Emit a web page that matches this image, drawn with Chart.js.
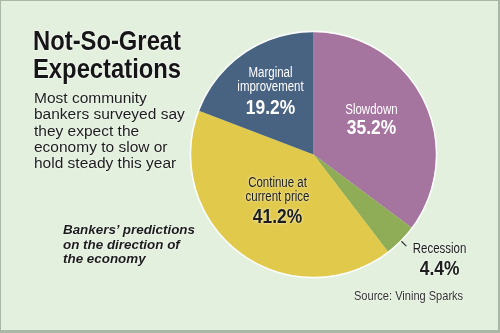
<!DOCTYPE html>
<html>
<head>
<meta charset="utf-8">
<script src="https://cdn.jsdelivr.net/npm/chart.js@4/dist/chart.umd.min.js"></script>
<style>
  html, body { margin: 0; padding: 0; }
  body { width: 500px; height: 333px; overflow: hidden; }
  #card {
    position: relative; width: 500px; height: 333px; box-sizing: border-box;
    background: #e3f0de; border: 1px solid #a9b8a6; border-right-width: 2px; border-bottom-width: 3px;
    font-family: "Liberation Sans", Arial, sans-serif;
  }
  #chartBox { position: absolute; left: 0; top: -1px; width: 500px; height: 333px; }
  .title {
    position: absolute; left: 32px; top: 26px; margin: 0; white-space: nowrap;
    font-weight: bold; font-size: 27.5px; line-height: 28px; color: #161616;
    transform: scaleX(0.865); transform-origin: 0 0;
    text-shadow: 0 0 2px #fff, 0 0 2px #fff;
  }
  .dek {
    position: absolute; left: 33px; top: 89px; margin: 0;
    font-size: 15.5px; line-height: 16.3px; color: #1c1c1c;
    text-shadow: 0 0 2px #fff;
  }
  .note {
    position: absolute; left: 62px; top: 222px; margin: 0;
    font-weight: bold; font-style: italic; font-size: 13.4px; line-height: 14.6px; color: #1c1c1c;
    text-shadow: 0 0 2px #fff;
  }
  .source {
    position: absolute; left: 353px; top: 287px; margin: 0; white-space: nowrap;
    font-size: 13px; line-height: 15px; color: #333;
    transform: scaleX(0.85); transform-origin: 0 0;
    text-shadow: 0 0 2px #fff;
  }
</style>
</head>
<body>
<div id="card">
  <div id="chartBox"><canvas id="pie" width="500" height="333"></canvas></div>
  <h1 class="title">Not-So-Great<br>Expectations</h1>
  <p class="dek">Most community<br>bankers surveyed say<br>they expect the<br>economy to slow or<br>hold steady this year</p>
  <p class="note">Bankers’ predictions<br>on the direction of<br>the economy</p>
  <p class="source">Source: Vining Sparks</p>
</div>
<script>
// Survey answers, clockwise from 12 o'clock
const categories = ["Slowdown", "Recession", "Continue at current price", "Marginal improvement"];
const shares = [35.2, 4.4, 41.2, 19.2];
const sliceColors = ["#a5749f", "#8fac56", "#e0c94b", "#486281"];

// Label lines inside each slice; the value line is drawn bold underneath
const labelLines = [["Slowdown"], ["Recession"], ["Continue at", "current price"], ["Marginal", "improvement"]];
const labelInk = ["#ffffff", "#1e1e1e", "#1e1e1e", "#ffffff"];
// first-baseline anchor relative to pie centre, in units of the radius
const labelAnchor = [[0.473, -0.327], [1.029, 0.80], [-0.294, 0.269], [-0.351, -0.629]];
const valueGap = [20, 22, 22, 23];

const FONT = '"Liberation Sans", Arial, sans-serif';
const NAME_SIZE = 14, VALUE_SIZE = 20, LINE_GAP = 13.5;
const NAME_SQUEEZE = 0.82, VALUE_SQUEEZE = 0.87;

function squeezedText(ctx, text, x, y, squeeze) {
  ctx.save();
  ctx.translate(x, y);
  ctx.scale(squeeze, 1);
  ctx.fillText(text, 0, 0);
  ctx.restore();
}

const pieLabels = {
  id: "pieLabels",
  afterDatasetsDraw(chart) {
    const ctx = chart.ctx;
    const meta = chart.getDatasetMeta(0);
    const arc0 = meta.data[0];
    const cx = arc0.x, cy = arc0.y, r = arc0.outerRadius;

    // soft light rim round the pie
    ctx.save();
    ctx.beginPath();
    ctx.arc(cx, cy, r + 0.6, 0, Math.PI * 2);
    ctx.strokeStyle = "rgba(255,255,255,0.85)";
    ctx.lineWidth = 1.6;
    ctx.stroke();
    ctx.restore();

    // short leader for the thin slice
    const thin = meta.data[1];
    const mid = (thin.startAngle + thin.endAngle) / 2;
    ctx.save();
    ctx.beginPath();
    ctx.moveTo(cx + Math.cos(mid) * (r + 1), cy + Math.sin(mid) * (r + 1));
    ctx.lineTo(cx + Math.cos(mid) * (r + 8), cy + Math.sin(mid) * (r + 8));
    ctx.strokeStyle = "#333";
    ctx.lineWidth = 1.2;
    ctx.stroke();
    ctx.restore();

    shares.forEach((v, i) => {
      const x = cx + labelAnchor[i][0] * r;
      let y = cy + labelAnchor[i][1] * r;
      ctx.save();
      ctx.textAlign = "center";
      ctx.textBaseline = "alphabetic";
      ctx.fillStyle = labelInk[i];
      if (labelInk[i] !== "#ffffff") {
        ctx.shadowColor = "rgba(255,255,255,0.9)";
        ctx.shadowBlur = 3;
      }
      ctx.font = NAME_SIZE + "px " + FONT;
      labelLines[i].forEach((line, k) => {
        squeezedText(ctx, line, x, y + k * LINE_GAP, NAME_SQUEEZE);
      });
      y += (labelLines[i].length - 1) * LINE_GAP + valueGap[i];
      ctx.font = "bold " + VALUE_SIZE + "px " + FONT;
      squeezedText(ctx, v.toFixed(1) + "%", x, y, VALUE_SQUEEZE);
      ctx.restore();
    });
  }
};

new Chart(document.getElementById("pie"), {
  type: "pie",
  data: {
    labels: categories,
    datasets: [{
      data: shares,
      backgroundColor: sliceColors,
      borderWidth: 0
    }]
  },
  options: {
    responsive: false,
    animation: false,
    layout: { padding: { left: 190, right: 65, top: 32, bottom: 56 } },
    plugins: { legend: { display: false }, tooltip: { enabled: false } }
  },
  plugins: [pieLabels]
});
</script>
</body>
</html>
